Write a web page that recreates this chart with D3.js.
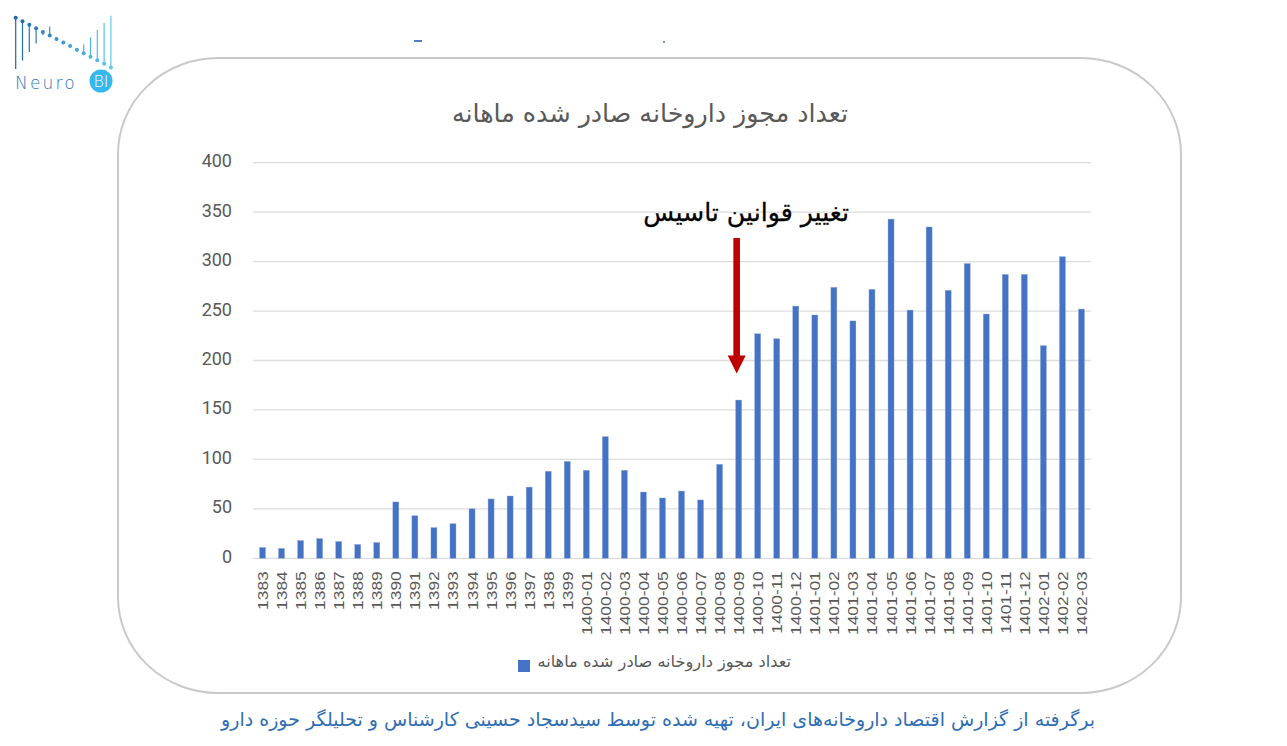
<!DOCTYPE html>
<html>
<head>
<meta charset="utf-8">
<script src="https://cdn.jsdelivr.net/npm/d3@7"></script>
<style>
  html, body { margin: 0; padding: 0; background: #ffffff; }
  svg { display: block; }
</style>
</head>
<body>
<svg id="chart" width="1287" height="746"></svg>
<script>
// ---- Data ----
const categories = [
  "1383","1384","1385","1386","1387","1388","1389","1390","1391","1392","1393","1394",
  "1395","1396","1397","1398","1399",
  "1400-01","1400-02","1400-03","1400-04","1400-05","1400-06","1400-07","1400-08",
  "1400-09","1400-10","1400-11","1400-12",
  "1401-01","1401-02","1401-03","1401-04","1401-05","1401-06","1401-07","1401-08",
  "1401-09","1401-10","1401-11","1401-12",
  "1402-01","1402-02","1402-03"
];
const licenses = [
  11, 10, 18, 20, 17, 14, 16, 57, 43, 31, 35, 50,
  60, 63, 72, 88, 98,
  89, 123, 89, 67, 61, 68, 59, 95,
  160, 227, 222, 255,
  246, 274, 240, 272, 343, 251, 335, 271,
  298, 247, 287, 287,
  215, 305, 252
];
const yTicks = [0, 50, 100, 150, 200, 250, 300, 350, 400];
const titleText = "تعداد مجوز داروخانه صادر شده ماهانه";
const seriesName = "تعداد مجوز داروخانه صادر شده ماهانه";
const annotationText = "تغییر قوانین تاسیس";
const annotationCategory = "1400-09";
const sourceText = "برگرفته از گزارش اقتصاد داروخانه‌های ایران، تهیه شده توسط سیدسجاد حسینی کارشناس و تحلیلگر حوزه دارو";

// ---- Setup ----
const svg = d3.select("#chart");
const gray = "#595959";
const barColor = "#4472c4";

// Card
svg.append("rect")
  .attr("x", 118).attr("y", 58).attr("width", 1063).attr("height", 635)
  .attr("rx", 100).attr("ry", 96)
  .attr("fill", "#ffffff").attr("stroke", "#c9c9c9").attr("stroke-width", 2);

// tiny artifacts at top
svg.append("rect").attr("x", 414).attr("y", 40).attr("width", 8).attr("height", 2).attr("fill", "#4a7fc4");
svg.append("rect").attr("x", 663).attr("y", 41).attr("width", 2).attr("height", 2).attr("fill", "#6a93cc");

// ---- Logo ----
const logo = svg.append("g");
const nL = 15;
for (let i = 0; i < nL; i++) {
  const lx = 15.7 + i * 6.8;
  const dotY = 17.7 + i * 3.55;
  const t = i / (nL - 1);
  const col = d3.interpolateRgb("#1a66b0", "#5ccaf2")(t);
  let y1 = dotY, y2 = dotY;
  if (i < 6) { y2 = 69 - i * 8.5; }
  else if (i >= 9) { y1 = 15.7 + (14 - i) * 7.2; }
  if (y1 !== y2) {
    logo.append("line").attr("x1", lx).attr("x2", lx).attr("y1", y1).attr("y2", y2)
      .attr("stroke", col).attr("stroke-width", 1.2);
  }
  logo.append("circle").attr("cx", lx).attr("cy", dotY).attr("r", 2).attr("fill", col);
}
logo.append("text").attr("x", 15).attr("y", 89)
  .attr("font-family", "DejaVu Sans").attr("font-weight", 200).attr("font-size", 17)
  .attr("fill", "#2a78bd").attr("letter-spacing", 2.2).text("Neuro");
logo.append("circle").attr("cx", 101).attr("cy", 81).attr("r", 11.5).attr("fill", "#35b8ee");
logo.append("text").attr("x", 101).attr("y", 87).attr("text-anchor", "middle")
  .attr("font-family", "DejaVu Sans").attr("font-weight", 200).attr("font-size", 16)
  .attr("fill", "#ffffff").text("BI");

// ---- Scales ----
const x = d3.scaleBand().domain(categories).range([253, 1091])
  .paddingInner(0.685).paddingOuter(0.3425);
const y = d3.scaleLinear().domain([0, 400]).range([558.3, 162.7]);

// Gridlines
svg.append("g").selectAll("line").data(yTicks).join("line")
  .attr("x1", 253).attr("x2", 1091)
  .attr("y1", d => y(d)).attr("y2", d => y(d))
  .attr("stroke", "#dcdcdc").attr("stroke-width", 1.3);

// Y axis labels
const yAxis = d3.axisLeft(y).tickValues(yTicks).tickSize(0).tickPadding(0);
const gy = svg.append("g").attr("transform", "translate(232,0)").call(yAxis);
gy.select(".domain").remove();
gy.selectAll("text")
  .attr("font-family", "Roboto, 'Liberation Sans', Arial, sans-serif")
  .attr("font-size", 18).attr("fill", gray).attr("dy", "0.22em");

// Bars
svg.append("g").selectAll("rect").data(categories).join("rect")
  .attr("x", d => x(d))
  .attr("width", x.bandwidth())
  .attr("y", (d, i) => y(licenses[i]))
  .attr("height", (d, i) => y(0) - y(licenses[i]))
  .attr("fill", barColor)
  .attr("stroke", "#8fa9dc").attr("stroke-width", 0.4);

// X axis labels
const xAxis = d3.axisBottom(x).tickSize(0).tickPadding(0);
const gx = svg.append("g").attr("transform", `translate(0,${y(0)})`).call(xAxis);
gx.select(".domain").remove();
gx.selectAll("text")
  .attr("font-family", "'Liberation Sans', Arial, sans-serif")
  .attr("font-size", 15.5).attr("fill", gray)
  .attr("text-anchor", "end")
  .attr("dy", null).attr("y", 0)
  .attr("transform", d => `translate(5.5,13) rotate(-90) scale(1.12,1)`);

// Title
svg.append("text").attr("x", 650).attr("y", 122).attr("text-anchor", "middle")
  .attr("font-family", "'DejaVu Sans', sans-serif").attr("font-size", 25.3)
  .attr("fill", gray).text(titleText);

// Annotation
const ax = x(annotationCategory) + x.bandwidth() / 2 - 2;
svg.append("text").attr("x", ax + 9.5).attr("y", 221).attr("text-anchor", "middle")
  .attr("font-family", "'DejaVu Sans', sans-serif").attr("font-size", 25.2)
  .attr("fill", "#000000").attr("stroke", "#000").attr("stroke-width", 0.3).text(annotationText);
svg.append("rect").attr("x", ax - 3.3).attr("y", 238).attr("width", 6.6).attr("height", 120)
  .attr("fill", "#c00000");
svg.append("path")
  .attr("d", `M${ax - 9},355.5 L${ax + 9},355.5 L${ax},373.5 Z`)
  .attr("fill", "#c00000");

// Legend
svg.append("rect").attr("x", 518).attr("y", 660).attr("width", 12).attr("height", 12).attr("fill", barColor);
svg.append("text").attr("x", 791).attr("y", 667).attr("text-anchor", "end")
  .attr("font-family", "'DejaVu Sans', sans-serif").attr("font-size", 16.2)
  .attr("fill", gray).text(seriesName);

// Source
svg.append("text").attr("x", 1095).attr("y", 726).attr("text-anchor", "end")
  .attr("font-family", "'DejaVu Sans', sans-serif").attr("font-size", 19)
  .attr("fill", "#2f6db5").text(sourceText);
</script>
</body>
</html>
